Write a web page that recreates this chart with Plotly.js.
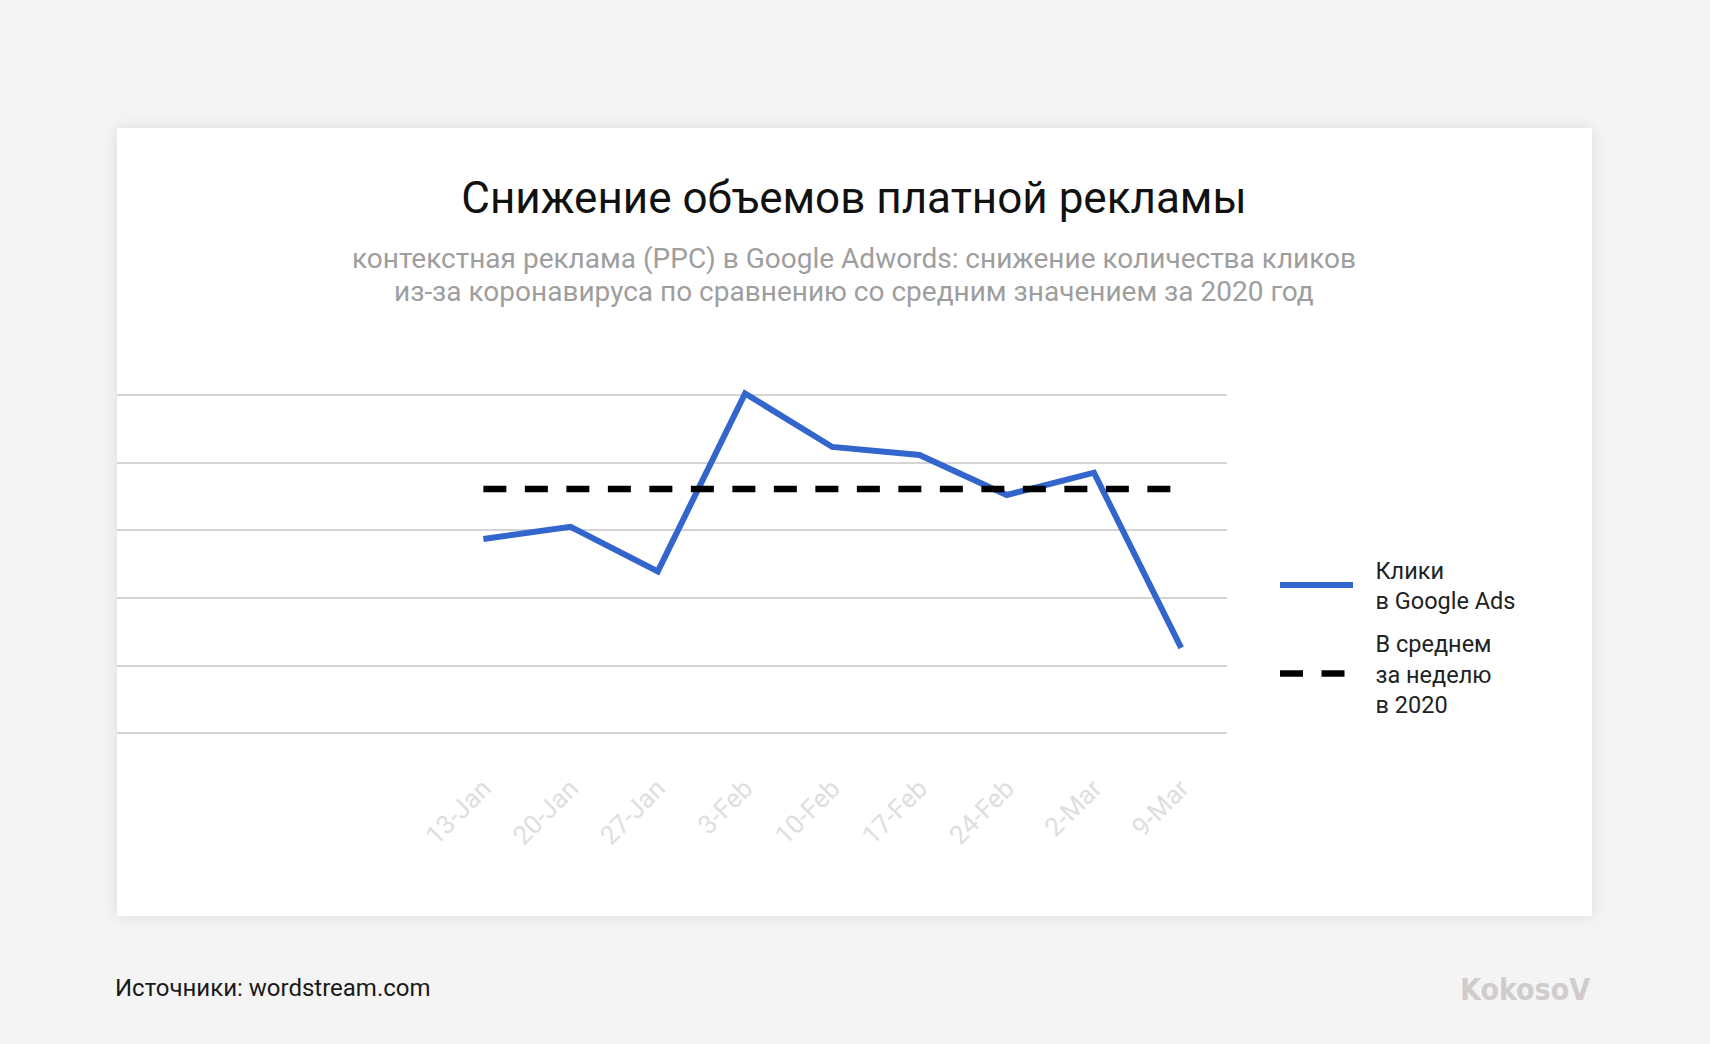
<!DOCTYPE html>
<html>
<head>
<meta charset="utf-8">
<script src="https://cdn.plot.ly/plotly-3.0.1.min.js"></script>
<style>
  html, body { margin: 0; padding: 0; background: #f4f4f4; }
  #card {
    position: absolute; left: 117px; top: 128px; width: 1475px; height: 788px;
    background: #ffffff; box-shadow: 0 0 14px rgba(0, 0, 0, 0.10);
  }
  #chart { position: absolute; left: 0; top: 0; width: 1710px; height: 1044px; }
</style>
</head>
<body>
<div id="card"></div>
<div id="chart"></div>
<script>
// weeks of 2020
let weeks = ['13-Jan', '20-Jan', '27-Jan', '3-Feb', '10-Feb', '17-Feb', '24-Feb', '2-Mar', '9-Mar'];
// clicks in Google Ads (relative units, axis is hidden)
let clicks = [2.87, 3.05, 2.39, 5.02, 4.23, 4.11, 3.52, 3.85, 1.26];
// weekly average for 2020
let weeklyAvg = [3.61, 3.61, 3.61, 3.61, 3.61, 3.61, 3.61, 3.61, 3.61];
let gridVals = [0, 1, 2, 3, 4, 5];

// plot area in pixels
let L = 117, R = 1227, T = 361, B = 767;
function px(x) { return (x - L) / (R - L); }
function py(y) { return (B - y) / (B - T); }

let font = 'Roboto, "Noto Sans", sans-serif';
let pad = '\u00a0\u00a0\u00a0';

Plotly.newPlot('chart', [{
    x: weeks,
    y: clicks,
    type: 'scatter',
    mode: 'lines',
    name: pad + 'Клики<br>' + pad + 'в Google Ads',
    legendgroup: 'a',
    line: { color: '#3366cc', width: 6 }
}, {
    x: weeks,
    y: weeklyAvg,
    type: 'scatter',
    mode: 'lines',
    name: pad + 'В среднем<br>' + pad + 'за неделю<br>' + pad + 'в 2020',
    legendgroup: 'b',
    line: { color: '#000000', width: 6.5, dash: '23px,18.5px' }
}], {
    width: 1710,
    height: 1044,
    margin: { l: L, r: 1710 - R, t: T, b: 1044 - B, pad: 0 },
    paper_bgcolor: 'rgba(0,0,0,0)',
    plot_bgcolor: 'rgba(0,0,0,0)',
    font: { family: font, color: '#222222' },
    title: {
        text: 'Снижение объемов платной рекламы',
        font: { family: font, size: 44, color: '#111111' },
        xref: 'container', yref: 'container',
        x: 854 / 1710, y: 1 - 198 / 1044,
        xanchor: 'center', yanchor: 'middle'
    },
    xaxis: {
        type: 'category',
        range: [-4.2, 8.525],
        showgrid: false,
        zeroline: false,
        showline: false,
        ticks: '',
        tickangle: -45,
        tickfont: { family: font, size: 26, color: '#dedede' }
    },
    yaxis: {
        range: [-0.5, 5.5],
        tickvals: gridVals,
        showticklabels: false,
        showgrid: true,
        gridcolor: '#d4d4d4',
        gridwidth: 2,
        zeroline: false,
        showline: false,
        ticks: ''
    },
    showlegend: true,
    legend: {
        x: px(1275), y: py(548),
        xanchor: 'left', yanchor: 'top',
        traceorder: 'grouped',
        tracegroupgap: 9,
        itemwidth: 73,
        bgcolor: 'rgba(0,0,0,0)',
        font: { family: font, size: 23.5, color: '#222222' }
    },
    annotations: [{
        text: 'контекстная реклама (PPC) в Google Adwords: снижение количества кликов',
        xref: 'paper', yref: 'paper',
        x: px(854), y: py(258),
        xanchor: 'center', yanchor: 'middle',
        showarrow: false,
        font: { family: font, size: 28, color: '#9e9e9e' }
    }, {
        text: 'из-за коронавируса по сравнению со средним значением за 2020 год',
        xref: 'paper', yref: 'paper',
        x: px(854), y: py(291),
        xanchor: 'center', yanchor: 'middle',
        showarrow: false,
        font: { family: font, size: 28, color: '#9e9e9e' }
    }, {
        text: 'Источники: wordstream.com',
        xref: 'paper', yref: 'paper',
        x: px(113), y: py(988),
        xanchor: 'left', yanchor: 'middle',
        showarrow: false,
        font: { family: font, size: 24, color: '#1a1a1a' }
    }, {
        text: '<b>KokosoV</b>',
        xref: 'paper', yref: 'paper',
        x: px(1592), y: py(989),
        xanchor: 'right', yanchor: 'middle',
        showarrow: false,
        font: { family: '"DejaVu Sans Condensed", "Liberation Sans Narrow", sans-serif', size: 30, color: '#d0cccc' }
    }]
}, { displayModeBar: false, staticPlot: true });
</script>
</body>
</html>
